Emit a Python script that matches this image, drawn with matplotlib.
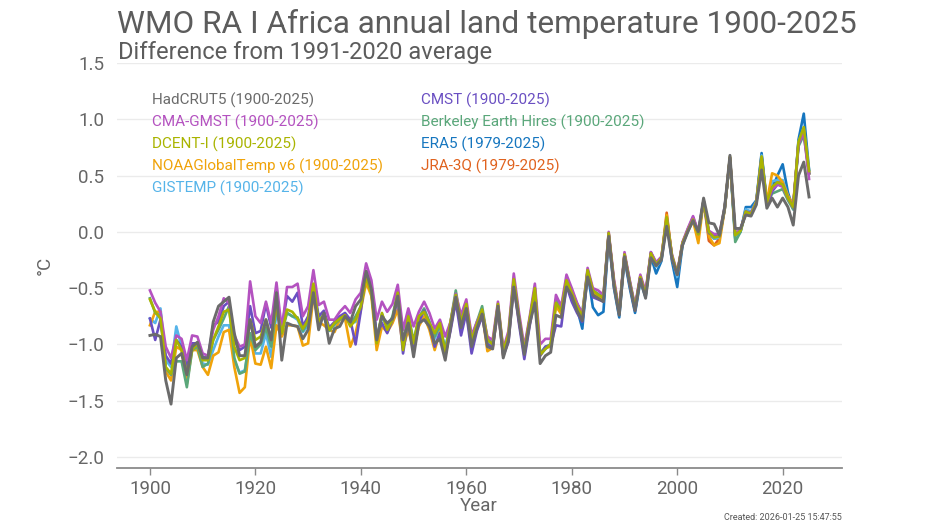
import matplotlib
matplotlib.use("Agg")
import matplotlib.pyplot as plt

plt.rcParams['font.family'] = ['Roboto', 'DejaVu Sans']

years = list(range(1900, 2026))
years_rean = list(range(1979, 2026))

hadcrut5 = [
    -0.92, -0.91, -0.93, -1.32, -1.53, -1.12, -1.08, -1.27, -1.02, -0.98,
    -1.12, -1.12, -0.80, -0.66, -0.62, -0.58, -0.90, -1.10, -1.10, -0.78,
    -1.02, -0.98, -0.78, -0.96, -0.54, -1.14, -0.81, -0.83, -0.84, -0.95,
    -0.87, -0.54, -0.87, -0.72, -0.99, -0.86, -0.84, -0.75, -0.80, -0.66,
    -0.60, -0.35, -0.51, -0.96, -0.75, -0.81, -0.77, -0.57, -0.96, -0.81,
    -1.11, -0.81, -0.78, -0.84, -0.99, -0.95, -1.14, -0.85, -0.58, -0.85,
    -0.68, -1.02, -0.86, -0.73, -1.02, -1.04, -0.66, -1.12, -0.96, -0.49,
    -0.78, -1.09, -0.82, -0.63, -1.17, -1.10, -1.07, -0.74, -0.76, -0.49,
    -0.57, -0.70, -0.79, -0.40, -0.56, -0.59, -0.62, -0.04, -0.48, -0.74,
    -0.22, -0.47, -0.70, -0.42, -0.59, -0.23, -0.30, -0.25, 0.05, -0.24,
    -0.38, -0.12, 0.00, 0.10, 0.00, 0.30, 0.08, 0.07, -0.03, 0.22,
    0.68, 0.03, 0.03, 0.15, 0.14, 0.24, 0.55, 0.21, 0.30, 0.22,
    0.30, 0.22, 0.06, 0.50, 0.62, 0.31,
]
cmst = [
    -0.77, -0.96, -0.78, -1.10, -1.17, -0.96, -1.02, -1.20, -0.99, -0.99,
    -1.11, -1.12, -0.83, -0.80, -0.66, -0.62, -0.96, -1.05, -1.02, -0.66,
    -0.90, -0.88, -0.64, -0.85, -0.57, -0.85, -0.57, -0.62, -0.54, -0.84,
    -0.75, -0.48, -0.75, -0.70, -0.85, -0.80, -0.75, -0.72, -0.78, -1.00,
    -0.70, -0.35, -0.48, -0.92, -0.81, -0.90, -0.78, -0.60, -1.08, -0.78,
    -1.05, -0.80, -0.70, -0.82, -1.02, -0.90, -1.10, -0.88, -0.62, -0.92,
    -0.72, -1.08, -0.88, -0.75, -1.00, -1.02, -0.70, -1.10, -0.98, -0.48,
    -0.82, -1.13, -0.84, -0.58, -1.10, -1.02, -1.01, -0.83, -0.84, -0.48,
    -0.62, -0.72, -0.80, -0.38, -0.58, -0.60, -0.62, -0.02, -0.46, -0.73,
    -0.21, -0.47, -0.70, -0.40, -0.55, -0.18, -0.28, -0.24, 0.10, -0.22,
    -0.38, -0.10, 0.02, 0.13, -0.01, 0.27, -0.01, -0.04, -0.04, 0.20,
    0.66, -0.02, 0.02, 0.18, 0.17, 0.26, 0.66, 0.24, 0.36, 0.42,
    0.42, 0.30, 0.22, 0.78, 0.90, 0.52,
]
cma_gmst = [
    -0.52, -0.63, -0.71, -1.02, -1.12, -0.92, -0.95, -1.14, -0.92, -0.93,
    -1.08, -1.10, -0.87, -0.75, -0.59, -0.63, -0.92, -1.02, -1.00, -0.44,
    -0.75, -0.81, -0.62, -0.81, -0.45, -0.87, -0.49, -0.49, -0.46, -0.75,
    -0.66, -0.34, -0.65, -0.62, -0.78, -0.78, -0.71, -0.66, -0.72, -0.60,
    -0.54, -0.28, -0.43, -0.78, -0.62, -0.71, -0.64, -0.47, -0.87, -0.68,
    -0.84, -0.71, -0.62, -0.72, -0.86, -0.78, -0.93, -0.80, -0.55, -0.74,
    -0.60, -0.92, -0.80, -0.70, -0.93, -0.96, -0.62, -1.04, -0.88, -0.37,
    -0.72, -1.02, -0.76, -0.46, -1.00, -0.95, -0.95, -0.56, -0.66, -0.38,
    -0.50, -0.63, -0.73, -0.32, -0.50, -0.52, -0.56, 0.00, -0.42, -0.70,
    -0.18, -0.43, -0.66, -0.38, -0.53, -0.18, -0.27, -0.22, 0.12, -0.20,
    -0.36, -0.09, 0.03, 0.14, 0.00, 0.28, 0.01, -0.02, -0.02, 0.22,
    0.66, -0.02, 0.02, 0.17, 0.17, 0.26, 0.64, 0.25, 0.38, 0.42,
    0.40, 0.30, 0.22, 0.78, 0.88, 0.47,
]
berkeley = [
    -0.59, -0.72, -0.75, -1.21, -1.27, -1.15, -1.15, -1.38, -1.05, -1.02,
    -1.20, -1.17, -0.96, -0.87, -0.77, -0.66, -1.12, -1.26, -1.24, -0.90,
    -1.05, -1.00, -0.85, -1.02, -0.68, -0.90, -0.72, -0.75, -0.76, -0.88,
    -0.80, -0.50, -0.80, -0.75, -0.88, -0.82, -0.78, -0.74, -0.82, -0.75,
    -0.66, -0.38, -0.54, -0.95, -0.73, -0.85, -0.75, -0.53, -0.99, -0.73,
    -0.97, -0.76, -0.68, -0.80, -0.93, -0.83, -1.05, -0.80, -0.52, -0.80,
    -0.65, -0.95, -0.80, -0.66, -0.95, -0.99, -0.65, -1.05, -0.92, -0.42,
    -0.76, -1.05, -0.78, -0.50, -1.08, -1.02, -1.00, -0.60, -0.68, -0.42,
    -0.52, -0.64, -0.72, -0.34, -0.52, -0.55, -0.58, -0.02, -0.44, -0.72,
    -0.20, -0.44, -0.67, -0.40, -0.56, -0.20, -0.30, -0.24, 0.12, -0.22,
    -0.38, -0.10, 0.01, 0.11, -0.02, 0.27, 0.00, -0.04, -0.04, 0.20,
    0.65, -0.09, 0.00, 0.17, 0.16, 0.25, 0.65, 0.24, 0.34, 0.36,
    0.38, 0.28, 0.20, 0.76, 0.86, 0.52,
]
dcent = [
    -0.60, -0.71, -0.77, -1.20, -1.26, -0.96, -1.05, -1.26, -1.05, -0.99,
    -1.14, -1.14, -0.96, -0.84, -0.71, -0.69, -1.02, -1.14, -1.12, -0.78,
    -0.96, -0.93, -0.78, -0.96, -0.66, -0.90, -0.69, -0.71, -0.77, -0.86,
    -0.78, -0.46, -0.80, -0.73, -0.87, -0.81, -0.77, -0.74, -0.84, -0.78,
    -0.66, -0.40, -0.54, -0.99, -0.72, -0.87, -0.78, -0.54, -1.05, -0.75,
    -0.99, -0.75, -0.71, -0.81, -0.90, -0.81, -1.08, -0.80, -0.56, -0.80,
    -0.64, -0.96, -0.82, -0.69, -0.96, -1.00, -0.64, -1.06, -0.91, -0.42,
    -0.76, -1.06, -0.78, -0.50, -1.09, -1.04, -1.00, -0.63, -0.70, -0.43,
    -0.54, -0.66, -0.75, -0.34, -0.52, -0.56, -0.58, -0.01, -0.45, -0.72,
    -0.20, -0.45, -0.68, -0.40, -0.56, -0.19, -0.29, -0.23, 0.13, -0.21,
    -0.37, -0.10, 0.01, 0.11, -0.02, 0.28, 0.00, -0.05, -0.04, 0.21,
    0.67, -0.03, 0.01, 0.18, 0.16, 0.26, 0.67, 0.26, 0.40, 0.44,
    0.42, 0.30, 0.22, 0.80, 0.93, 0.54,
]
noaa = [
    -0.83, -0.71, -0.71, -1.24, -1.32, -1.02, -1.05, -1.35, -1.05, -1.05,
    -1.20, -1.27, -1.10, -1.07, -0.89, -0.87, -1.20, -1.43, -1.38, -0.93,
    -1.17, -1.18, -1.02, -1.21, -0.83, -0.93, -0.83, -0.83, -0.84, -1.01,
    -0.99, -0.57, -0.80, -0.83, -0.87, -0.89, -0.78, -0.77, -1.02, -0.90,
    -0.69, -0.45, -0.57, -1.05, -0.84, -0.89, -0.81, -0.69, -1.03, -0.87,
    -1.05, -0.84, -0.75, -0.87, -1.05, -0.89, -1.10, -0.86, -0.60, -0.84,
    -0.68, -1.02, -0.86, -0.72, -1.06, -1.03, -0.69, -1.10, -0.96, -0.46,
    -0.80, -1.08, -0.82, -0.54, -1.10, -1.03, -1.02, -0.66, -0.73, -0.44,
    -0.55, -0.67, -0.76, -0.35, -0.54, -0.58, -0.60, -0.01, -0.45, -0.72,
    -0.20, -0.45, -0.68, -0.40, -0.56, -0.20, -0.30, -0.24, 0.15, -0.22,
    -0.38, -0.10, 0.01, 0.10, -0.10, 0.27, -0.04, -0.12, -0.10, 0.20,
    0.66, -0.02, 0.01, 0.18, 0.16, 0.27, 0.64, 0.27, 0.52, 0.50,
    0.44, 0.32, 0.24, 0.78, 0.90, 0.52,
]
gistemp = [
    -0.77, -0.81, -0.68, -1.14, -1.20, -0.84, -1.02, -1.26, -1.02, -1.02,
    -1.17, -1.18, -1.05, -0.93, -0.83, -0.83, -1.14, -1.25, -1.23, -0.93,
    -1.08, -1.08, -0.90, -1.11, -0.72, -0.84, -0.72, -0.75, -0.78, -0.89,
    -0.83, -0.54, -0.75, -0.76, -0.86, -0.83, -0.76, -0.74, -0.81, -0.80,
    -0.66, -0.40, -0.52, -0.94, -0.76, -0.84, -0.77, -0.58, -1.00, -0.77,
    -0.98, -0.78, -0.70, -0.80, -0.95, -0.85, -1.03, -0.82, -0.58, -0.82,
    -0.67, -0.98, -0.84, -0.70, -0.98, -1.01, -0.66, -1.08, -0.94, -0.44,
    -0.78, -1.07, -0.80, -0.54, -1.10, -1.04, -1.00, -0.64, -0.71, -0.45,
    -0.56, -0.66, -0.77, -0.35, -0.54, -0.57, -0.60, -0.02, -0.46, -0.73,
    -0.21, -0.46, -0.69, -0.41, -0.57, -0.21, -0.31, -0.25, 0.10, -0.23,
    -0.40, -0.11, 0.00, 0.10, -0.03, 0.27, -0.01, -0.06, -0.05, 0.20,
    0.66, -0.05, 0.00, 0.20, 0.18, 0.27, 0.68, 0.26, 0.45, 0.46,
    0.46, 0.32, 0.22, 0.80, 0.92, 0.55,
]
era5 = [
    -0.46, -0.60, -0.68, -0.86, -0.36, -0.67, -0.74, -0.71, -0.05, -0.50, -0.76,
    -0.24, -0.50, -0.72, -0.44, -0.58, -0.22, -0.37, -0.26, 0.10, -0.26,
    -0.49, -0.12, 0.02, 0.12, 0.00, 0.28, -0.02, -0.06, -0.05, 0.22,
    0.65, -0.06, 0.00, 0.22, 0.22, 0.28, 0.70, 0.26, 0.38, 0.50,
    0.60, 0.35, 0.20, 0.82, 1.05, 0.55,
]
jra3q = [
    -0.44, -0.56, -0.67, -0.77, -0.36, -0.55, -0.58, -0.60, -0.03, -0.46, -0.72,
    -0.20, -0.45, -0.68, -0.40, -0.56, -0.20, -0.30, -0.24, 0.17, -0.22,
    -0.38, -0.10, 0.01, 0.11, -0.04, 0.28, -0.08, -0.12, -0.06, 0.20,
    0.65, -0.04, 0.01, 0.18, 0.16, 0.27, 0.68, 0.25, 0.42, 0.46,
    0.44, 0.30, 0.24, 0.80, 0.92, 0.52,
]

labels = ['HadCRUT5 (1900-2025)', 'CMST (1900-2025)', 'CMA-GMST (1900-2025)',
          'Berkeley Earth Hires (1900-2025)', 'DCENT-I (1900-2025)', 'ERA5 (1979-2025)',
          'NOAAGlobalTemp v6 (1900-2025)', 'JRA-3Q (1979-2025)', 'GISTEMP (1900-2025)']
colors = ['#6b6b6b', '#6a4fc2', '#b452c0', '#5aa77a', '#a9b400', '#1676bf',
          '#f0a30a', '#e0621e', '#56b4e9']

fig = plt.figure(figsize=(9.36, 5.27), dpi=100)
ax = fig.add_axes([0.1247, 0.1114, 0.7746, 0.7691])

# drawing order: light lines first, grey on top
ax.plot(years_rean, jra3q, color=colors[7], lw=1.9)
ax.plot(years_rean, era5, color=colors[5], lw=1.9)
ax.plot(years, gistemp, color=colors[8], lw=1.9)
ax.plot(years, noaa, color=colors[6], lw=1.9)
ax.plot(years, berkeley, color=colors[3], lw=1.9)
ax.plot(years, cmst, color=colors[1], lw=1.9)
ax.plot(years, cma_gmst, color=colors[2], lw=1.9)
ax.plot(years, dcent, color=colors[4], lw=1.9)
ax.plot(years, hadcrut5, color=colors[0], lw=2.1)

ax.set_xlim(1893.7, 2031.2)
ax.set_ylim(-2.1, 1.5)
ax.set_yticks([-2.0, -1.5, -1.0, -0.5, 0.0, 0.5, 1.0, 1.5])
ax.set_yticklabels(['\u22122.0', '\u22121.5', '\u22121.0', '\u22120.5', '0.0', '0.5', '1.0', '1.5'])
ax.set_xticks(range(1900, 2021, 20))
ax.grid(axis='y', color='#ebebeb', lw=1)
ax.set_axisbelow(True)
for s in ['top', 'right', 'left']:
    ax.spines[s].set_visible(False)
ax.spines['bottom'].set_color('#8a8a8a')
ax.spines['bottom'].set_linewidth(1.3)
ax.tick_params(axis='x', colors='#8a8a8a', labelcolor='#666666', labelsize=13.5, length=5, width=1)
ax.tick_params(axis='y', length=0, labelcolor='#666666', labelsize=13.5, pad=9)
ax.set_xlabel('Year', color='#666666', fontsize=13.5, labelpad=-1)
ax.set_ylabel('°C', color='#666666', fontsize=13.5, labelpad=10)

fig.text(117 / 936, 1 - 24 / 527, 'WMO RA I Africa annual land temperature 1900-2025',
         fontsize=22.7, color='#5c5c5c', va='center', ha='left')
fig.text(118 / 936, 1 - 52 / 527, 'Difference from 1991-2020 average',
         fontsize=17, color='#5c5c5c', va='center', ha='left')

# coloured-text legend, two columns
order = [0, 2, 4, 6, 8, 1, 3, 5, 7]
for k, i in enumerate(order):
    col = k // 5
    row = k % 5
    fig.text((152 + col * 269) / 936, 1 - (100 + row * 22) / 527, labels[i],
             color=colors[i], fontsize=11, va='center', ha='left')

fig.text(842 / 936, 1 - 518 / 527, 'Created: 2026-01-25 15:47:55',
         fontsize=6.5, color='#555555', ha='right', va='center')

fig.savefig('out.png', dpi=100)
